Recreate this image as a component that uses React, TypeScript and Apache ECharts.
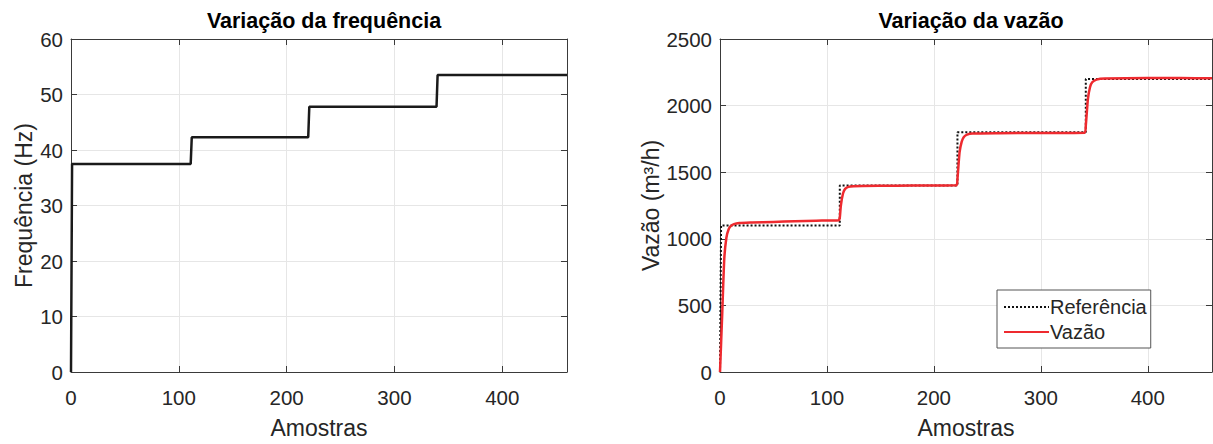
import React, { useEffect, useRef } from "react";
import * as echarts from "echarts";

const freqPoints: [number, number][] = [
  [0, 0], [1, 37.5], [111, 37.5], [112, 42.3], [220, 42.3], [221, 47.8],
  [339, 47.8], [340, 53.5], [460, 53.5],
];

const refPoints: [number, number][] = [
  [0, 0], [1, 1100], [112, 1100], [112, 1400], [222, 1400], [222, 1800],
  [342, 1800], [342, 2200], [460, 2200],
];

const flowPoints: [number, number][] = [
  [0, 0], [2, 420], [4, 850], [6, 1010], [8, 1070], [10, 1095], [13, 1110],
  [18, 1118], [30, 1122], [50, 1127], [70, 1132], [90, 1136], [111, 1140],
  [112, 1160], [113, 1250], [115, 1340], [117, 1375], [120, 1390], [125, 1395],
  [150, 1398], [180, 1400], [221, 1402], [222, 1450], [224, 1650], [226, 1730],
  [228, 1765], [231, 1782], [236, 1790], [260, 1793], [300, 1795], [341, 1797],
  [342, 1850], [344, 2050], [346, 2140], [348, 2175], [352, 2195], [360, 2203],
  [400, 2208], [430, 2207], [460, 2205],
];

const xTicks = { min: 0, max: 460, interval: 100 };
const freqTicks = { min: 0, max: 60, interval: 10 };
const flowTicks = { min: 0, max: 2500, interval: 500 };

const FONT = "'Liberation Sans', Arial, Helvetica, sans-serif";
const TXT = "#262626";
const BOX = "#3a3a3a";
const GRIDC = "#e6e6e6";

export default function App() {
  const ref = useRef<HTMLDivElement>(null);
  useEffect(() => {
    if (!ref.current) return;
    const chart = echarts.init(ref.current, undefined, { renderer: "svg" });
    const tickLabel = { color: TXT, fontSize: 20.5, fontFamily: FONT, formatter: (v: number) => String(v) };
    const nameStyle = { color: TXT, fontSize: 23, fontFamily: FONT };
    const mainX = (gridIndex: number) => ({
      type: "value", gridIndex, ...xTicks,
      name: "Amostras", nameLocation: "middle", nameGap: 44,
      nameTextStyle: nameStyle,
      axisLine: { show: true, onZero: false, lineStyle: { color: BOX, width: 1 } },
      axisTick: { show: true, inside: true, length: 6, lineStyle: { color: BOX } },
      axisLabel: { ...tickLabel, margin: 15, showMaxLabel: false },
      splitLine: { show: true, lineStyle: { color: GRIDC, width: 1 } },
    });
    const mirrorX = (gridIndex: number) => ({
      type: "value", gridIndex, ...xTicks, position: "top",
      axisLine: { show: true, onZero: false, lineStyle: { color: BOX, width: 1 } },
      axisTick: { show: true, inside: true, length: 6, lineStyle: { color: BOX } },
      axisLabel: { show: false }, splitLine: { show: false },
    });
    const mainY = (gridIndex: number, ticks: any, name: string, gap: number) => ({
      type: "value", gridIndex, ...ticks,
      name, nameLocation: "middle", nameGap: gap,
      nameTextStyle: nameStyle,
      axisLine: { show: true, onZero: false, lineStyle: { color: BOX, width: 1 } },
      axisTick: { show: true, inside: true, length: 6, lineStyle: { color: BOX } },
      axisLabel: { ...tickLabel, margin: 8 },
      splitLine: { show: true, lineStyle: { color: GRIDC, width: 1 } },
    });
    const mirrorY = (gridIndex: number, ticks: any) => ({
      type: "value", gridIndex, ...ticks, position: "right",
      axisLine: { show: true, onZero: false, lineStyle: { color: BOX, width: 1 } },
      axisTick: { show: true, inside: true, length: 6, lineStyle: { color: BOX } },
      axisLabel: { show: false }, splitLine: { show: false },
    });
    chart.setOption({
      animation: false,
      backgroundColor: "#ffffff",
      title: [
        { text: "Variação da frequência", left: 319, top: 5, textAlign: "center",
          textStyle: { color: "#000", fontSize: 21.5, fontWeight: "bold", fontFamily: FONT } },
        { text: "Variação da vazão", left: 966, top: 5, textAlign: "center",
          textStyle: { color: "#000", fontSize: 21.5, fontWeight: "bold", fontFamily: FONT } },
      ],
      grid: [
        { left: 71, top: 39, width: 496, height: 336 },
        { left: 720, top: 39, width: 492, height: 336 },
      ],
      xAxis: [mainX(0), mirrorX(0), mainX(1), mirrorX(1)],
      yAxis: [
        mainY(0, freqTicks, "Frequência (Hz)", 36),
        mirrorY(0, freqTicks),
        mainY(1, flowTicks, "Vazão (m³/h)", 56),
        mirrorY(1, flowTicks),
      ],
      legend: {
        data: ["Referência", "Vazão"],
        orient: "vertical", left: 997, top: 290,
        itemWidth: 45, itemHeight: 12, itemGap: 1,
        padding: [5, 4, 4, 6],
        backgroundColor: "#fff", borderColor: "#555", borderWidth: 1,
        itemStyle: { opacity: 0 },
        textStyle: { color: TXT, fontSize: 20, fontFamily: FONT, padding: [0, 0, 0, -4], lineHeight: 24 },
      },
      series: [
        { name: "Frequência", type: "line", xAxisIndex: 0, yAxisIndex: 0,
          data: freqPoints, symbol: "none",
          lineStyle: { color: "#1a1a1a", width: 2.5 } },
        { name: "Referência", type: "line", xAxisIndex: 2, yAxisIndex: 2,
          data: refPoints, symbol: "none", itemStyle: { color: "#111" },
          lineStyle: { color: "#111", width: 2, type: [2, 2] } },
        { name: "Vazão", type: "line", xAxisIndex: 2, yAxisIndex: 2,
          data: flowPoints, symbol: "none", smooth: 0.2, itemStyle: { color: "#ee2a2f" },
          lineStyle: { color: "#ee2a2f", width: 2.5 } },
      ],
    });
    return () => chart.dispose();
  }, []);
  return <div ref={ref} style={{ width: 1213, height: 444, position: "absolute", left: 0, top: 0 }} />;
}
